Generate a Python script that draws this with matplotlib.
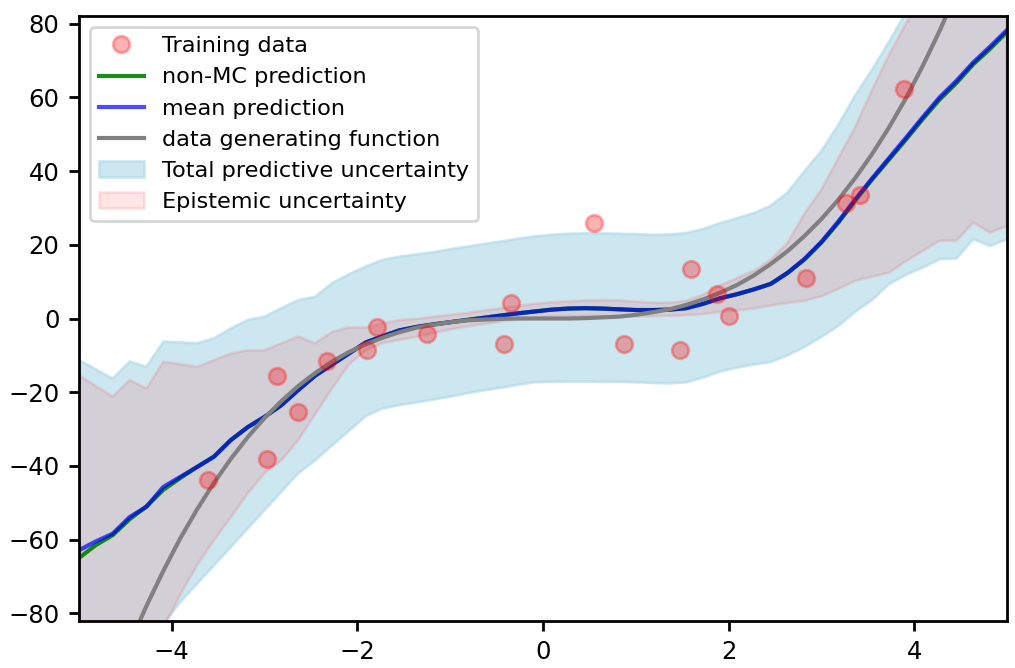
import numpy as np
import matplotlib
matplotlib.use("Agg")
import matplotlib.pyplot as plt

# grid of evaluation points
x_grid = np.linspace(-5, 5, 56)

total_upper = [-11.3, -13.8, -16.3, -11.7, -13.1, -6.3, -6.5, -6.7, -5.4, -2.7,
               -0.4, 0.5, 2.8, 5.0, 5.9, 9.6, 12.0, 14.1, 15.9, 16.8,
               17.4, 18.0, 18.8, 19.5, 20.2, 20.9, 21.6, 22.3, 22.7, 23.0,
               23.1, 23.1, 23.0, 22.9, 22.7, 22.8, 23.2, 24.3, 25.9, 27.2,
               28.6, 30.6, 34.2, 40.0, 45.5, 52.5, 60.5, 67.5, 75.0, 83.0,
               92.0, 101.0, 110.0, 118.0, 126.0, 134.0]
total_lower = [-110, -103, -97, -95, -90, -83, -77, -72, -67, -62,
               -57, -52, -47, -42, -38.5, -34.5, -30.5, -26.5, -24.4, -23.5,
               -22.8, -22.0, -21.2, -20.3, -19.5, -18.8, -18.0, -17.3, -17.2, -17.1,
               -17.1, -17.2, -17.2, -17.3, -17.5, -17.6, -17.3, -16.0, -14.4, -13.3,
               -12.5, -11.8, -10.0, -7.7, -5.0, -2.0, 1.8, 5.0, 9.3, 11.8,
               13.8, 16.1, 16.3, 21.5, 19.7, 21.5]
epi_upper = [-15.4, -18.3, -21.2, -16.7, -19.0, -11.7, -12.4, -13.1, -11.3, -9.5,
             -8.6, -8.6, -6.7, -4.9, -6.7, -3.6, -2.4, -2.4, -1.3, -0.4,
             -0.1, 0.5, 1.0, 1.5, 2.2, 2.8, 3.4, 4.0, 4.4, 4.7,
             4.9, 5.0, 4.9, 4.6, 4.3, 4.3, 4.8, 6.5, 9.0, 11.0,
             13.0, 16.0, 20.6, 28.5, 35.0, 43.5, 52.0, 62.0, 71.5, 80.0,
             88.0, 96.0, 104.0, 110.0, 116.0, 122.0]
epi_lower = [-120, -112, -105, -100, -92, -84, -75, -67, -60.2, -54,
             -47.5, -42, -38.5, -33, -26, -19, -12.5, -8.6, -6.7, -5.8,
             -5.0, -4.0, -3.0, -2.2, -1.5, -0.8, -0.3, 0.2, 0.5, 0.6,
             0.6, 0.6, 0.5, 0.5, 0.6, 0.7, 0.9, 1.2, 1.8, 2.2,
             2.7, 3.5, 4.2, 4.8, 6.0, 8.0, 10.2, 11.3, 12.4, 15.5,
             18.3, 21.1, 21.1, 26.0, 23.3, 25.1]
mean_pred = [-62.9, -60.5, -58.4, -53.9, -51.1, -45.7, -43.0, -40.3, -37.5, -33.0,
             -29.5, -26.7, -23.5, -19.4, -15.5, -12.5, -9.5, -6.5, -4.8, -3.2,
             -2.3, -1.6, -1.0, -0.4, 0.2, 0.8, 1.4, 1.9, 2.4, 2.7,
             2.8, 2.7, 2.5, 2.3, 2.3, 2.4, 2.8, 4.0, 5.5, 6.6,
             7.9, 9.4, 12.4, 16.2, 20.8, 26.3, 32.3, 38.0, 43.5, 49.0,
             54.6, 60.0, 64.5, 69.5, 73.8, 78.3]
nonmc_pred = [-65.0, -61.5, -58.8, -54.5, -51.0, -46.5, -43.3, -40.3, -37.5, -33.0,
              -29.5, -26.7, -23.5, -19.4, -15.5, -12.5, -9.5, -6.5, -4.8, -3.2,
              -2.3, -1.6, -1.0, -0.4, 0.2, 0.8, 1.4, 1.9, 2.4, 2.7,
              2.8, 2.7, 2.5, 2.3, 2.3, 2.4, 2.8, 4.0, 5.5, 6.6,
              7.9, 9.4, 12.4, 16.0, 20.6, 26.0, 32.0, 37.7, 43.1, 48.5,
              54.1, 59.4, 63.9, 69.0, 73.2, 77.8]
true_func = [-125.0, -111.8, -99.6, -88.4, -78.0, -68.5, -59.7, -51.8, -44.6, -38.1,
             -32.2, -27.0, -22.4, -18.3, -14.8, -11.7, -9.1, -7.0, -5.2, -3.7,
             -2.5, -1.7, -1.0, -0.5, -0.3, -0.1, 0.0, 0.0, 0.0, 0.0,
             0.1, 0.3, 0.5, 1.0, 1.7, 2.5, 3.7, 5.2, 7.0, 9.1,
             11.7, 14.8, 18.3, 22.4, 27.0, 32.2, 38.1, 44.6, 51.8, 59.7,
             68.5, 78.0, 88.4, 99.6, 111.8, 125.0]

train_x = [-3.61, -2.87, -2.97, -2.64, -2.33, -1.90, -1.79, -1.25, -0.42, -0.34,
           0.55, 0.875, 1.48, 1.60, 1.88, 2.00, 2.83, 3.26, 3.42, 3.89]
train_y = [-43.9, -15.6, -38.2, -25.5, -11.5, -8.6, -2.2, -4.2, -6.9, 4.3,
           25.9, -6.9, -8.6, 13.5, 6.6, 0.7, 11.1, 31.3, 33.5, 62.4]

x_ticks = [-4, -2, 0, 2, 4]
y_ticks = [-80, -60, -40, -20, 0, 20, 40, 60, 80]

fig = plt.figure(figsize=(5.075, 3.34), dpi=200)
ax = fig.add_axes([0.0778, 0.0704, 0.9143, 0.9056])

h_tot = ax.fill_between(x_grid, total_lower, total_upper, color='lightblue', alpha=0.6,
                        label='Total predictive uncertainty')
h_epi = ax.fill_between(x_grid, epi_lower, epi_upper, color='red', alpha=0.1,
                        label='Epistemic uncertainty')
h_nmc, = ax.plot(x_grid, nonmc_pred, color='green', alpha=0.9, lw=1.5, label='non-MC prediction')
h_mean, = ax.plot(x_grid, mean_pred, color='blue', alpha=0.7, lw=1.5, label='mean prediction')
h_true, = ax.plot(x_grid, true_func, color='gray', lw=1.5, label='data generating function')
h_data, = ax.plot(train_x, train_y, 'o', color='red', alpha=0.3, markersize=6,
                  label='Training data')

ax.set_xlim(-5, 5)
ax.set_ylim(-82.1, 82.1)
ax.set_xticks(x_ticks)
ax.set_yticks(y_ticks)
ax.tick_params(labelsize=8.75, width=1.0, length=3.5)
for s in ax.spines.values():
    s.set_linewidth(1.0)

ax.legend(handles=[h_data, h_nmc, h_mean, h_true, h_tot, h_epi], loc='upper left',
          fontsize=8.05)

fig.savefig('out.png', dpi=200)
